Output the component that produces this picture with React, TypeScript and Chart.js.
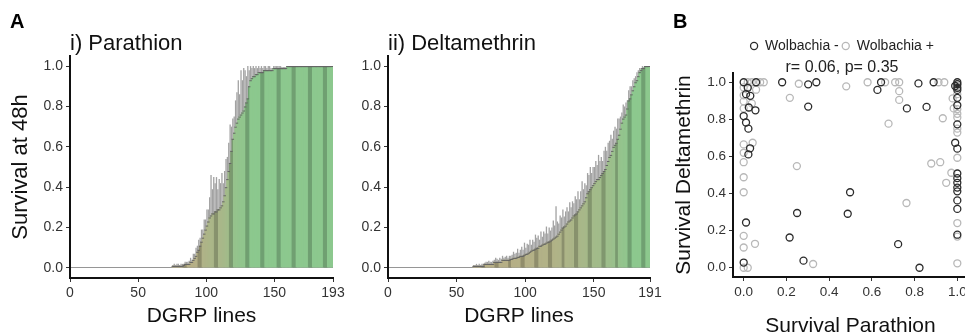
import React, { useEffect, useRef } from "react";
import { Chart, registerables } from "chart.js";
Chart.register(...registerables);

const FONT = "'Liberation Sans', Arial, Helvetica, sans-serif";

// ---------- Panel A i) Parathion : survival per DGRP line (sorted) ----------
const parathionSurvival = [
  0, 0, 0, 0, 0, 0, 0, 0, 0, 0,
  0, 0, 0, 0, 0, 0, 0, 0, 0, 0,
  0, 0, 0, 0, 0, 0, 0, 0, 0, 0,
  0, 0, 0, 0, 0, 0, 0, 0, 0, 0,
  0, 0, 0, 0, 0, 0, 0, 0, 0, 0,
  0, 0, 0, 0, 0, 0, 0, 0, 0, 0,
  0, 0, 0, 0, 0, 0, 0, 0, 0, 0,
  0, 0, 0, 0, 0,
  0.01, 0.01, 0.01, 0.01, 0.01, 0.01, 0.01, 0.01, 0.015, 0.02, 0.02, 0.02, 0.02,
  0.03, 0.03, 0.04, 0.05, 0.06, 0.08, 0.09, 0.11,
  0.13, 0.15, 0.17, 0.19, 0.21, 0.23, 0.25, 0.26, 0.27, 0.27,
  0.28, 0.28, 0.29, 0.29, 0.3, 0.31, 0.33, 0.36, 0.4, 0.44,
  0.48, 0.52, 0.58, 0.64, 0.67, 0.7, 0.72, 0.74, 0.75, 0.76,
  0.77, 0.78, 0.8, 0.82, 0.84, 0.9, 0.93, 0.94, 0.95, 0.95,
  0.96, 0.96, 0.97, 0.97, 0.97, 0.97, 0.98, 0.98, 0.98, 0.98,
  0.98, 0.98, 0.98, 0.99, 0.99, 0.99, 0.99, 0.99, 0.99, 0.99, 0.99, 0.99, 0.99, 1,
  1, 1, 1, 1, 1, 1, 1, 1, 1, 1,
  1, 1, 1, 1, 1, 1, 1, 1, 1, 1,
  1, 1, 1, 1, 1, 1, 1, 1, 1, 1,
  1, 1, 1,
];
const parathionError = [
  0, 0, 0, 0, 0, 0, 0, 0, 0, 0,
  0, 0, 0, 0, 0, 0, 0, 0, 0, 0,
  0, 0, 0, 0, 0, 0, 0, 0, 0, 0,
  0, 0, 0, 0, 0, 0, 0, 0, 0, 0,
  0, 0, 0, 0, 0, 0, 0, 0, 0, 0,
  0, 0, 0, 0, 0, 0, 0, 0, 0, 0,
  0, 0, 0, 0, 0, 0, 0, 0, 0, 0,
  0, 0, 0, 0, 0,
  0.005, 0.01, 0.005, 0.01, 0.01, 0.005, 0.01, 0.01, 0.005, 0.01, 0.01, 0.01, 0.015,
  0.02, 0.01, 0.03, 0.02, 0.04, 0.03, 0.05, 0.04,
  0.06, 0.04, 0.07, 0.05, 0.08, 0.06, 0.1, 0.2, 0.12, 0.18,
  0.14, 0.17, 0.1, 0.15, 0.12, 0.16, 0.09, 0.12, 0.14, 0.11,
  0.14, 0.19, 0.12, 0.1, 0.08, 0.13, 0.15, 0.19, 0.11, 0.22,
  0.16, 0.21, 0.18, 0.13, 0.16, 0.08, 0.07, 0.05, 0.05, 0.04,
  0.04, 0.03, 0.03, 0.02, 0.03, 0.02, 0.02, 0.02, 0.01, 0.02,
  0.02, 0.01, 0.01, 0.01, 0.01, 0.01, 0.01, 0.01, 0.01, 0.005, 0.005, 0.005, 0.005, 0,
  0, 0, 0, 0, 0, 0, 0, 0, 0, 0,
  0, 0, 0, 0, 0, 0, 0, 0, 0, 0,
  0, 0, 0, 0, 0, 0, 0, 0, 0, 0,
  0, 0, 0,
];
const parathionTicks = [0, 50, 100, 150, 193];

// ---------- Panel A ii) Deltamethrin ----------
const deltamethrinSurvival = [
  0, 0, 0, 0, 0, 0, 0, 0, 0, 0,
  0, 0, 0, 0, 0, 0, 0, 0, 0, 0,
  0, 0, 0, 0, 0, 0, 0, 0, 0, 0,
  0, 0, 0, 0, 0, 0, 0, 0, 0, 0,
  0, 0, 0, 0, 0, 0, 0, 0, 0, 0,
  0, 0, 0, 0, 0, 0, 0, 0, 0, 0,
  0, 0,
  0.01, 0.01, 0.01, 0.01, 0.01, 0.01, 0.01, 0.01, 0.02, 0.02, 0.02, 0.02, 0.02, 0.02,
  0.02, 0.03, 0.03, 0.03, 0.03, 0.03, 0.03, 0.04, 0.04, 0.04, 0.04, 0.04, 0.04, 0.045,
  0.045, 0.05, 0.05, 0.05, 0.055, 0.055, 0.06, 0.06, 0.06, 0.065, 0.07, 0.07, 0.075, 0.08, 0.085,
  0.09, 0.09, 0.095, 0.1, 0.1, 0.11, 0.11, 0.115, 0.12, 0.12, 0.125, 0.13, 0.13, 0.135, 0.14,
  0.145, 0.15, 0.155, 0.16, 0.17, 0.18, 0.19, 0.2, 0.205, 0.21, 0.22, 0.23, 0.235, 0.24, 0.25,
  0.26, 0.265, 0.27, 0.28, 0.29, 0.3, 0.31, 0.32, 0.33, 0.35, 0.37, 0.38, 0.39, 0.4, 0.41,
  0.42, 0.43, 0.44, 0.44, 0.45, 0.46, 0.47, 0.48, 0.49, 0.51, 0.53, 0.55, 0.56, 0.58, 0.6,
  0.61, 0.62, 0.64, 0.66, 0.69, 0.72, 0.74, 0.75, 0.76, 0.79, 0.83, 0.84, 0.86, 0.88, 0.9,
  0.92, 0.93, 0.95, 0.97, 0.98, 0.99, 0.99, 1, 1, 1, 1,
];
const deltamethrinError = [
  0, 0, 0, 0, 0, 0, 0, 0, 0, 0,
  0, 0, 0, 0, 0, 0, 0, 0, 0, 0,
  0, 0, 0, 0, 0, 0, 0, 0, 0, 0,
  0, 0, 0, 0, 0, 0, 0, 0, 0, 0,
  0, 0, 0, 0, 0, 0, 0, 0, 0, 0,
  0, 0, 0, 0, 0, 0, 0, 0, 0, 0,
  0, 0,
  0.005, 0.005, 0.01, 0.005, 0.01, 0.005, 0.01, 0.01, 0.005, 0.01, 0.01, 0.015, 0.01, 0.01,
  0.015, 0.01, 0.02, 0.015, 0.01, 0.02, 0.015, 0.02, 0.01, 0.015, 0.02, 0.01, 0.02, 0.015,
  0.02, 0.03, 0.02, 0.025, 0.04, 0.02, 0.03, 0.045, 0.03, 0.06, 0.03, 0.05, 0.04, 0.06, 0.03,
  0.05, 0.04, 0.07, 0.05, 0.06, 0.03, 0.07, 0.04, 0.06, 0.05, 0.08, 0.04, 0.07, 0.05, 0.06,
  0.09, 0.06, 0.15, 0.07, 0.05, 0.08, 0.06, 0.09, 0.05, 0.07, 0.08, 0.05, 0.09, 0.06, 0.08,
  0.06, 0.09, 0.07, 0.1, 0.05, 0.08, 0.12, 0.07, 0.09, 0.06, 0.1, 0.08, 0.11, 0.07, 0.09,
  0.08, 0.1, 0.07, 0.12, 0.08, 0.09, 0.06, 0.1, 0.11, 0.07, 0.09, 0.08, 0.1, 0.06, 0.08,
  0.09, 0.07, 0.1, 0.08, 0.06, 0.05, 0.07, 0.05, 0.06, 0.04, 0.05, 0.06, 0.04, 0.05, 0.04,
  0.03, 0.04, 0.03, 0.02, 0.01, 0.01, 0.005, 0, 0, 0, 0,
];
const deltamethrinTicks = [0, 50, 100, 150, 191];

const survivalTicks = [0, 0.2, 0.4, 0.6, 0.8, 1.0];

// ---------- Panel B : survival parathion (x) vs deltamethrin (y) ----------
const wolbachiaNeg = [
  [0.0, 1.0], [0.058, 1.0], [0.019, 0.97], [0.011, 0.936], [0.031, 0.927], [0.024, 0.864],
  [0.055, 0.849], [0.0, 0.818], [0.011, 0.783], [0.022, 0.75], [0.03, 0.644], [0.022, 0.611],
  [0.011, 0.244], [0.0, 0.028], [0.18, 1.0], [0.302, 0.989], [0.34, 1.0], [0.302, 0.869],
  [0.25, 0.295], [0.215, 0.163], [0.28, 0.038], [0.498, 0.407], [0.487, 0.291], [0.643, 1.0],
  [0.626, 0.959], [0.818, 0.994], [0.889, 1.0], [0.764, 0.859], [0.856, 0.867], [0.723, 0.127],
  [0.823, 0.0], [1, 1.0], [1, 0.99], [1, 0.97], [1, 0.959], [1, 0.916], [1, 0.876], [1, 0.773],
  [0.99, 0.674], [1, 0.642], [1, 0.508], [1, 0.483], [1, 0.458], [1, 0.432], [1, 0.412],
  [1, 0.363], [1, 0.317], [1, 0.178], [0.99, 0.98],
];
const wolbachiaPos = [
  [0.019, 1.0], [0.038, 1.0], [0.077, 1.0], [0.094, 1.0], [0.0, 0.972], [0.058, 0.96],
  [0.0, 0.897], [0.0, 0.859], [0.038, 0.886], [0.02, 0.975], [0.258, 0.992], [0.216, 0.916],
  [0.48, 0.978], [0.0, 0.665], [0.042, 0.674], [0.0, 0.62], [0.0, 0.569], [0.0, 0.488],
  [0.0, 0.407], [0.249, 0.548], [0.0, 0.172], [0.0, 0.109], [0.053, 0.129], [0.0, 0.0],
  [0.019, 0.0], [0.325, 0.02], [0.58, 1.0], [0.662, 1.0], [0.709, 1.0], [0.728, 1.0],
  [0.728, 0.952], [0.728, 0.905], [0.912, 1.0], [0.939, 1.0], [0.932, 0.806], [0.678, 0.777],
  [0.878, 0.562], [0.92, 0.569], [0.972, 0.512], [0.948, 0.458], [0.762, 0.349], [0.983, 0.859],
  [0.978, 0.913], [1, 0.99], [1, 0.98], [1, 0.936], [1, 0.855], [1, 0.81], [1, 0.729],
  [1, 0.593], [1, 0.241], [1, 0.168], [1, 0.024], [1, 0.83], [1, 0.75], [0.0, 0.93],
];
const correlationText = "r= 0.06, p= 0.35";

// ---------- styles ----------
const TAN = [184, 174, 134];
const GREEN = [140, 200, 142];
const OUTLINE = 0.005; // thickness (in survival units) of the dark step line on bar tops

function barColor(v: number, i: number, period: number, phase: number) {
  let c = TAN.map((a, k) => a + (GREEN[k] - a) * Math.min(1, v * 1.15));
  const d = i - phase - period * Math.floor((i - phase) / period);
  if (d < 2.8) c = c.map((x) => x * 0.8);
  return `rgb(${c.map((x) => Math.round(x)).join(",")})`;
}

type BarPanel = {
  values: number[];
  errors: number[];
  ticks: number[];
  title: string;
  yTitle: string | null;
  yWidth: number;
  padLeft: number;
  padRight: number;
  period: number;
  phase: number;
};

function barConfig(p: BarPanel): any {
  const n = p.values.length;
  return {
    type: "bar",
    data: {
      datasets: [
        {
          // dark step outline along the bar tops
          data: p.values.map((v, i) => ({ x: i + 0.5, y: v > 0 ? [v - OUTLINE, v] : [0, 0] })),
          backgroundColor: "rgb(100,100,100)",
          borderWidth: 0,
          barPercentage: 1.8,
          categoryPercentage: 1,
          inflateAmount: 0,
          grouped: false,
          order: 0,
        },
        {
          data: p.values.map((v, i) => ({ x: i + 0.5, y: v })),
          backgroundColor: (ctx: any) =>
            barColor(p.values[ctx.dataIndex] ?? 0, ctx.dataIndex, p.period, p.phase),
          borderWidth: 0,
          barPercentage: 1.8,
          categoryPercentage: 1,
          inflateAmount: 0,
          grouped: false,
          order: 1,
        },
        {
          data: p.values.map((v, i) => ({ x: i + 0.5, y: [v, v + p.errors[i]] })),
          backgroundColor: "rgb(162,162,162)",
          borderWidth: 0,
          barPercentage: 0.95,
          categoryPercentage: 1,
          inflateAmount: 0,
          grouped: false,
          order: 2,
        },
      ],
    },
    options: {
      animation: false,
      responsive: false,
      devicePixelRatio: 1,
      layout: { padding: { left: p.padLeft, right: p.padRight, top: 0, bottom: 0 } },
      plugins: {
        legend: { display: false },
        tooltip: { enabled: false },
        title: {
          display: true,
          text: p.title,
          align: "start",
          fullSize: false,
          color: "#111",
          font: { family: FONT, size: 22, weight: "normal", lineHeight: 1 },
          padding: { top: 33, bottom: 1 },
        },
      },
      scales: {
        x: {
          type: "linear",
          min: 0,
          max: n,
          offset: false,
          afterBuildTicks: (s: any) => {
            s.ticks = p.ticks.map((v) => ({ value: v }));
          },
          afterFit: (s: any) => {
            s.height = 57;
          },
          grid: {
            display: true,
            offset: false,
            drawOnChartArea: false,
            drawTicks: true,
            tickLength: 4,
            tickColor: "#333",
            tickWidth: 1,
          },
          border: { display: true, color: "#111", width: 2 },
          ticks: {
            autoSkip: false,
            maxRotation: 0,
            padding: 3,
            color: "#333",
            font: { family: FONT, size: 14 },
            callback: (v: any) => String(v),
          },
          title: {
            display: true,
            text: "DGRP lines",
            color: "#111",
            font: { family: FONT, size: 21 },
            padding: { top: 0, bottom: 6 },
          },
        },
        y: {
          min: -0.05,
          max: 1.05,
          afterBuildTicks: (s: any) => {
            s.ticks = survivalTicks.map((v) => ({ value: v }));
          },
          afterFit: (s: any) => {
            s.width = p.yWidth;
          },
          grid: {
            display: true,
            drawOnChartArea: true,
            drawTicks: true,
            tickLength: 4,
            tickColor: "#333",
            tickWidth: 1,
            color: (ctx: any) =>
              ctx.tick && ctx.tick.value === 0 ? "rgb(150,150,150)" : "rgba(0,0,0,0)",
          },
          border: { display: true, color: "#111", width: 2 },
          ticks: {
            padding: 3,
            color: "#333",
            font: { family: FONT, size: 14 },
            callback: (v: any) => Number(v).toFixed(1),
          },
          title: {
            display: !!p.yTitle,
            text: p.yTitle || "",
            color: "#111",
            font: { family: FONT, size: 22 },
            padding: { top: 0, bottom: 0 },
          },
        },
      },
    },
  };
}

function scatterConfig(): any {
  return {
    type: "scatter",
    data: {
      datasets: [
        {
          label: "Wolbachia -",
          data: wolbachiaNeg.map(([x, y]) => ({ x, y })),
          pointStyle: "circle",
          pointRadius: 3.5,
          borderWidth: 1.3,
          borderColor: "#2b2b2b",
          backgroundColor: "rgba(0,0,0,0)",
        },
        {
          label: "Wolbachia +",
          data: wolbachiaPos.map(([x, y]) => ({ x, y })),
          pointStyle: "circle",
          pointRadius: 3.5,
          borderWidth: 1.3,
          borderColor: "#b8b8b8",
          backgroundColor: "rgba(0,0,0,0)",
        },
      ],
    },
    options: {
      animation: false,
      responsive: false,
      devicePixelRatio: 1,
      clip: false,
      layout: { padding: { left: 0, right: 0, top: 36, bottom: 0 } },
      plugins: {
        tooltip: { enabled: false },
        legend: {
          display: true,
          position: "top",
          weight: 1000,
          labels: {
            usePointStyle: true,
            boxWidth: 8,
            boxHeight: 5,
            padding: 3,
            color: "#222",
            font: { family: FONT, size: 14 },
          },
        },
        title: {
          display: true,
          text: correlationText,
          weight: 500,
          color: "#222",
          font: { family: FONT, size: 16, weight: "normal", lineHeight: 0.625 },
          padding: { top: 0, bottom: 0 },
        },
      },
      scales: {
        x: {
          type: "linear",
          min: -0.05,
          max: 1.05,
          afterBuildTicks: (s: any) => {
            s.ticks = survivalTicks.map((v) => ({ value: v }));
          },
          afterFit: (s: any) => {
            s.height = 63;
          },
          grid: {
            display: true,
            drawOnChartArea: false,
            drawTicks: true,
            tickLength: 4,
            tickColor: "#333",
          },
          border: { display: true, color: "#111", width: 2 },
          ticks: {
            autoSkip: false,
            maxRotation: 0,
            padding: 3,
            color: "#333",
            font: { family: FONT, size: 13.5 },
            callback: (v: any) => Number(v).toFixed(1),
          },
          title: {
            display: true,
            text: "Survival Parathion",
            color: "#111",
            font: { family: FONT, size: 21 },
            padding: { top: 0, bottom: 1.4 },
          },
        },
        y: {
          type: "linear",
          min: -0.05,
          max: 1.05,
          afterBuildTicks: (s: any) => {
            s.ticks = survivalTicks.map((v) => ({ value: v }));
          },
          afterFit: (s: any) => {
            s.width = 61;
          },
          grid: {
            display: true,
            drawOnChartArea: false,
            drawTicks: true,
            tickLength: 4,
            tickColor: "#333",
          },
          border: { display: true, color: "#111", width: 2 },
          ticks: {
            padding: 3,
            color: "#333",
            font: { family: FONT, size: 13.5 },
            callback: (v: any) => Number(v).toFixed(1),
          },
          title: {
            display: true,
            text: "Survival Deltamethrin",
            color: "#111",
            font: { family: FONT, size: 21 },
            padding: { top: 0, bottom: 0 },
          },
        },
        yRight: {
          type: "linear",
          position: "right",
          min: 0,
          max: 1,
          display: true,
          afterFit: (s: any) => {
            s.width = 44;
          },
          grid: { display: false, drawTicks: false },
          border: { display: false },
          ticks: { display: false },
        },
      },
    },
  };
}

function ChartCanvas({ config, left, top, width, height }: any) {
  const ref = useRef<HTMLCanvasElement | null>(null);
  useEffect(() => {
    if (!ref.current) return;
    const chart = new Chart(ref.current, config());
    return () => chart.destroy();
  }, []);
  return (
    <canvas
      ref={ref}
      width={width}
      height={height}
      style={{ position: "absolute", left, top, width, height, display: "block" }}
    />
  );
}

const panelLabel: React.CSSProperties = {
  position: "absolute",
  fontFamily: FONT,
  fontWeight: "bold",
  fontSize: 20,
  lineHeight: "20px",
  color: "#000",
};

export default function App() {
  return (
    <div
      style={{
        position: "fixed",
        left: 0,
        top: 0,
        width: 965,
        height: 335,
        overflow: "hidden",
        background: "#fff",
      }}
    >
      <ChartCanvas
        left={0}
        top={0}
        width={350}
        height={335}
        config={() =>
          barConfig({
            values: parathionSurvival,
            errors: parathionError,
            ticks: parathionTicks,
            title: "i) Parathion",
            yTitle: "Survival at 48h",
            yWidth: 62,
            padLeft: 8,
            padRight: 17,
            period: 11.46,
            phase: 94,
          })
        }
      />
      <ChartCanvas
        left={345}
        top={0}
        width={320}
        height={335}
        config={() =>
          barConfig({
            values: deltamethrinSurvival,
            errors: deltamethrinError,
            ticks: deltamethrinTicks,
            title: "ii) Deltamethrin",
            yTitle: null,
            yWidth: 43,
            padLeft: 0,
            padRight: 15,
            period: 9.77,
            phase: 67.5,
          })
        }
      />
      <ChartCanvas left={672} top={0} width={340} height={340} config={scatterConfig} />
      <div style={{ ...panelLabel, left: 10, top: 11 }}>A</div>
      <div style={{ ...panelLabel, left: 673, top: 11 }}>B</div>
    </div>
  );
}
